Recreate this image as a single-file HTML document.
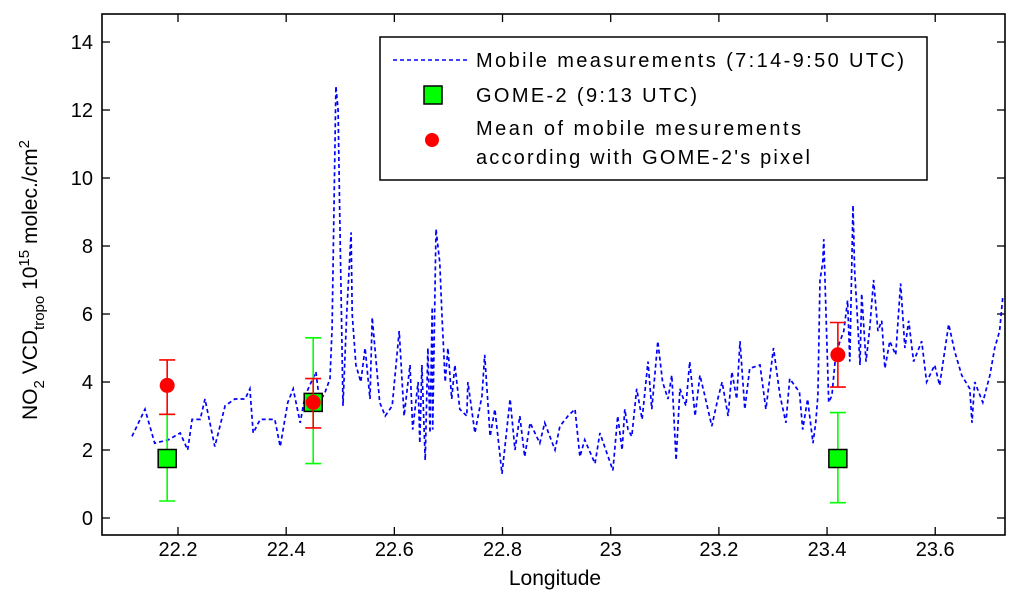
<!DOCTYPE html>
<html><head><meta charset="utf-8"><style>
body{margin:0;background:#fff;}
svg{display:block;font-family:"Liberation Sans",Arial,sans-serif;}
</style></head><body>
<svg id="chart" width="1024" height="601">
<rect x="0" y="0" width="1024" height="601" fill="#fff"/>
<g id="axes"></g>
<g id="series"></g>
<g id="markers"></g>
<g id="legend">
 <rect x="380" y="37" width="547" height="143" fill="#fff" stroke="#000" stroke-width="1.5"/>
 <line x1="393" y1="60" x2="468" y2="60" stroke="#0000ff" stroke-width="1.6" stroke-dasharray="4 3"/>
 <text x="476" y="67" font-size="20" textLength="428" lengthAdjust="spacing" fill="#000">Mobile measurements  (7:14-9:50 UTC)</text>
 <rect x="424" y="86" width="18" height="18" fill="#00ff00" stroke="#000" stroke-width="1.5"/>
 <text x="476" y="102" font-size="20" textLength="221" lengthAdjust="spacing" fill="#000">GOME-2 (9:13 UTC)</text>
 <circle cx="432" cy="140" r="7" fill="#ff0000"/>
 <text x="476" y="135" font-size="20" textLength="325" lengthAdjust="spacing" fill="#000">Mean of mobile mesurements</text>
 <text x="476" y="164" font-size="20" textLength="334" lengthAdjust="spacing" fill="#000">according with GOME-2's pixel</text>
</g>
<text x="555" y="585" font-size="21" text-anchor="middle" fill="#000">Longitude</text>
<text transform="translate(37,280) rotate(-90)" font-size="21" text-anchor="middle" fill="#000">NO<tspan font-size="15" dy="7">2</tspan><tspan dy="-7"> VCD</tspan><tspan font-size="15" dy="7">tropo</tspan><tspan dy="-7"> 10</tspan><tspan font-size="15" dy="-8">15</tspan><tspan dy="8"> molec./cm</tspan><tspan font-size="15" dy="-8">2</tspan></text>
</svg>
<script>
const xTicks = [22.2, 22.4, 22.6, 22.8, 23, 23.2, 23.4, 23.6];
const xTickLabels = ["22.2","22.4","22.6","22.8","23","23.2","23.4","23.6"];
const yTicks = [0, 2, 4, 6, 8, 10, 12, 14];
const yTickLabels = ["0","2","4","6","8","10","12","14"];
const mobileLon = [22.115,22.139,22.157,22.182,22.204,22.218,22.226,22.241,22.250,22.268,22.287,22.305,22.324,22.333,22.339,22.352,22.379,22.389,22.403,22.413,22.426,22.435,22.455,22.462,22.472,22.481,22.485,22.492,
22.496,22.499,22.505,22.512,22.520,22.522,22.529,22.538,22.546,22.555,22.559,22.573,22.583,22.596,22.609,22.618,22.629,22.634,22.644,22.647,22.651,22.657,22.662,22.666,22.670,22.671,22.677,22.684,22.688,22.694,22.699,22.706,22.712,22.721,22.734,22.736,22.749,22.762,22.767,22.777,22.786,22.799,22.814,22.823,22.832,22.841,22.851,22.869,22.878,22.897,22.906,22.921,22.934,22.943,22.952,22.971,22.980,23.004,23.013,23.021,23.026,23.032,23.039,23.048,23.058,23.069,23.076,23.087,23.096,23.106,23.113,23.121,23.128,23.139,23.146,23.156,23.165,23.174,23.187,23.198,23.206,23.217,23.224,23.233,23.239,23.248,23.257,23.276,23.287,23.301,23.313,23.324,23.331,23.349,23.355,23.364,23.374,23.379,23.383,23.387,23.392,23.394,23.398,23.403,23.409,23.416,23.424,23.431,23.438,23.442,23.448,23.451,23.455,23.461,23.464,23.472,23.479,23.486,23.494,23.501,23.507,23.516,23.527,23.536,23.544,23.551,23.560,23.575,23.584,23.599,23.608,23.625,23.636,23.649,23.664,23.668,23.673,23.688,23.701,23.710,23.719,23.725];
const mobileVcd = [2.4,3.2,2.2,2.3,2.5,2.0,2.9,2.9,3.5,2.1,3.3,3.5,3.5,3.8,2.5,2.9,2.9,2.1,3.4,3.8,2.8,3.6,4.3,3.4,3.7,4.1,5.6,12.7,
12.0,9.0,3.3,6.0,8.4,6.0,4.5,4.0,5.0,3.5,5.9,3.4,3.0,3.3,5.5,3.0,4.5,2.6,4.0,2.2,4.5,1.7,5.0,2.5,6.2,2.6,8.5,7.5,6.0,4.0,5.0,3.5,4.5,3.2,3.0,4.0,2.5,3.6,4.8,2.4,3.2,1.3,3.5,2.0,3.0,1.8,2.8,2.2,2.8,2.0,2.7,3.0,3.2,1.8,2.3,1.6,2.5,1.4,3.0,2.0,3.2,2.6,2.4,3.8,2.9,4.6,3.2,5.2,4.0,3.5,4.2,1.7,3.8,3.3,4.6,3.0,4.2,3.6,2.7,3.5,4.0,3.0,4.3,3.5,5.2,3.2,4.4,4.5,3.2,5.0,3.6,2.8,4.1,3.7,2.6,3.5,2.2,2.8,3.6,7.0,7.5,8.2,6.0,3.4,3.6,4.8,5.2,5.5,6.4,4.6,9.2,7.3,6.2,4.5,6.6,4.6,5.6,7.0,5.5,5.8,4.4,5.2,4.8,6.9,5.0,5.8,4.6,5.2,4.0,4.5,3.9,5.7,4.9,4.2,3.8,2.8,4.0,3.4,4.2,5.0,5.5,6.5];
const gomeLon = [22.18, 22.45, 23.42];
const gomeVcd = [1.75, 3.4, 1.75];
const gomeLow = [0.5, 1.6, 0.45];
const gomeHigh = [3.05, 5.3, 3.1];
const meanLon = [22.18, 22.45, 23.42];
const meanVcd = [3.9, 3.4, 4.8];
const meanLow = [3.05, 2.65, 3.85];
const meanHigh = [4.65, 4.1, 5.75];

const L=102, R=1005, T=14, B=535;
const xMin=22.0595, xMax=23.729, yMin=-0.5, yMax=14.824;
function sx(v){return L+(v-xMin)/(xMax-xMin)*(R-L);}
function sy(v){return B-(v-yMin)/(yMax-yMin)*(B-T);}
const NS="http://www.w3.org/2000/svg";
function mk(tag,attrs,parent){const e=document.createElementNS(NS,tag);for(const k in attrs)e.setAttribute(k,attrs[k]);parent.appendChild(e);return e;}
const axes=document.getElementById('axes');
const frame=mk('rect',{x:L,y:T,width:R-L,height:B-T,fill:'none',stroke:'#000','stroke-width':1.6},axes);


xTicks.forEach((t,i)=>{
 const x=sx(t);
 mk('line',{x1:x,y1:B,x2:x,y2:B-8,stroke:'#000','stroke-width':1.3},axes);
 mk('line',{x1:x,y1:T,x2:x,y2:T+8,stroke:'#000','stroke-width':1.3},axes);
 const tx=mk('text',{x:x,y:B+21,'font-size':20,'text-anchor':'middle',fill:'#000'},axes);
 tx.textContent=xTickLabels[i];
 
 
});
yTicks.forEach((t,i)=>{
 const y=sy(t);
 mk('line',{x1:L,y1:y,x2:L+8,y2:y,stroke:'#000','stroke-width':1.3},axes);
 mk('line',{x1:R,y1:y,x2:R-8,y2:y,stroke:'#000','stroke-width':1.3},axes);
 const tx=mk('text',{x:L-9,y:y+7,'font-size':20,'text-anchor':'end',fill:'#000'},axes);
 tx.textContent=yTickLabels[i];
 
 
});
const series=document.getElementById('series');
const pts=mobileLon.map((v,i)=>sx(v).toFixed(1)+','+sy(mobileVcd[i]).toFixed(1)).join(' ');
const pl=mk('polyline',{points:pts,fill:'none',stroke:'#0000ff','stroke-width':1.7,'stroke-dasharray':'4 3'},series);


const mg=document.getElementById('markers');
function errbar(x,lo,hi,color,g){
 const X=sx(x);
 mk('line',{x1:X,y1:sy(lo),x2:X,y2:sy(hi),stroke:color,'stroke-width':1.6},g);
 mk('line',{x1:X-8,y1:sy(lo),x2:X+8,y2:sy(lo),stroke:color,'stroke-width':1.6},g);
 mk('line',{x1:X-8,y1:sy(hi),x2:X+8,y2:sy(hi),stroke:color,'stroke-width':1.6},g);
}
gomeLon.forEach((x,i)=>{
 const g=mk('g',{},mg);
 
 
 errbar(x,gomeLow[i],gomeHigh[i],'#00ff00',g);
 mk('rect',{x:sx(x)-9,y:sy(gomeVcd[i])-9,width:18,height:18,fill:'#00ff00',stroke:'#000','stroke-width':1.5},g);
});
meanLon.forEach((x,i)=>{
 const g=mk('g',{},mg);
 
 
 errbar(x,meanLow[i],meanHigh[i],'#ff0000',g);
 mk('circle',{cx:sx(x),cy:sy(meanVcd[i]),r:7.5,fill:'#ff0000'},g);
});
</script>
</body></html>
